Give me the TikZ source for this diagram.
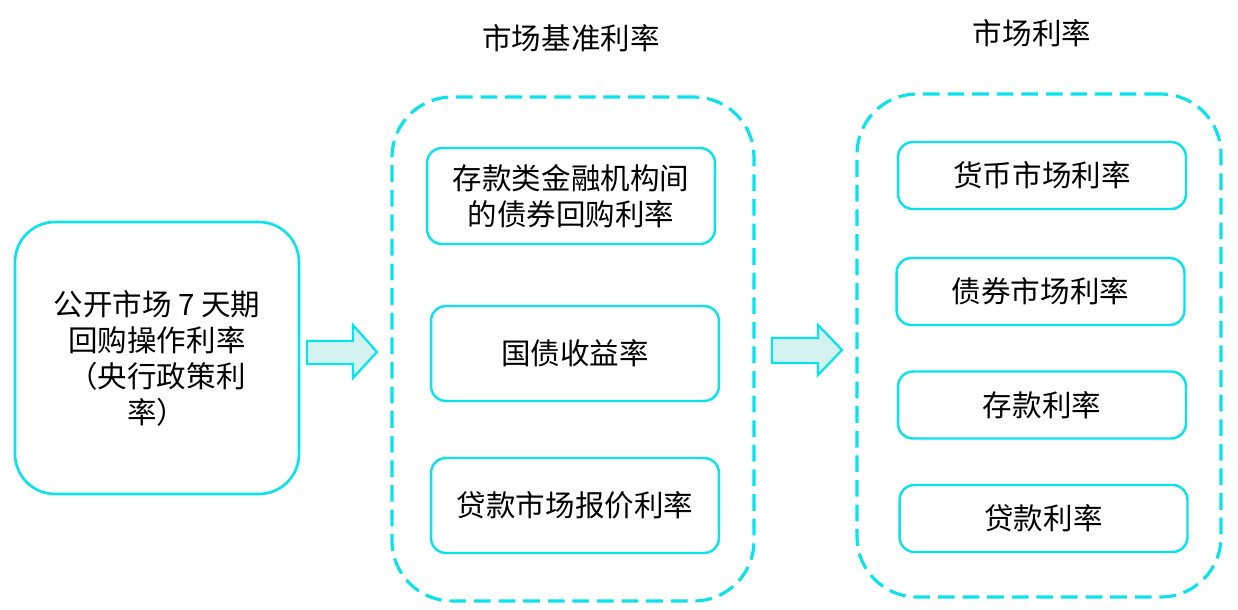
\documentclass[tikz,border=0pt]{standalone}
\usepackage{fontspec}
\setmainfont{Noto Sans CJK SC}
\definecolor{lineCyan}{RGB}{10,226,236}
\definecolor{arrowFill}{RGB}{212,243,240}
\begin{document}
\begin{tikzpicture}[
    x=0.02cm, y=-0.02cm,
    every node/.style={font=\fontsize{16.8}{20.5}\selectfont, align=center, inner sep=0pt},
    srcbox/.style={rectangle, draw=lineCyan, line width=1.5pt, rounded corners=0.8cm, minimum width=5.68cm, minimum height=5.44cm},
    group/.style={rectangle, draw=lineCyan, line width=1.8pt, dash pattern=on 9.5pt off 4.5pt, rounded corners=1.2cm},
    rate/.style={rectangle, draw=lineCyan, line width=1.4pt, rounded corners=0.3cm, minimum width=5.76cm},
    blockarr/.style={draw=lineCyan, line width=1.3pt, fill=arrowFill}
  ]
    \useasboundingbox[fill=white] (0,0) rectangle (1238,609);
    \node[srcbox] (src) at (157,358) {公开市场 7 天期\\回购操作利率\\（央行政策利\\率）};

    \node (t1) at (571,38) {市场基准利率};
    \node[group, minimum width=7.24cm, minimum height=10.08cm] (bench) at (573,349) {};
    \node[rate, minimum height=1.92cm] (b1) at (571,196) {存款类金融机构间\\的债券回购利率};
    \node[rate, minimum height=1.9cm] (b2) at (575,353.5) {国债收益率};
    \node[rate, minimum height=1.9cm] (b3) at (575,505.5) {贷款市场报价利率};

    \node (t2) at (1032,33) {市场利率};
    \node[group, minimum width=7.28cm, minimum height=10.06cm] (mkt) at (1039,345.5) {};
    \node[rate, minimum height=1.34cm] (m1) at (1042,175.5) {货币市场利率};
    \node[rate, minimum height=1.34cm] (m2) at (1040.5,291.5) {债券市场利率};
    \node[rate, minimum height=1.34cm] (m3) at (1042,405) {存款利率};
    \node[rate, minimum height=1.34cm] (m4) at (1043.5,518.5) {贷款利率};

    % block arrows
    \draw[blockarr] (307,341) -- (353,341) -- (353,325) -- (377,352) -- (353,378) -- (353,364) -- (307,364) -- cycle;
    \draw[blockarr] (772,338) -- (818,338) -- (818,325) -- (842,350) -- (818,375) -- (818,363) -- (772,363) -- cycle;
  \end{tikzpicture}
\end{document}
